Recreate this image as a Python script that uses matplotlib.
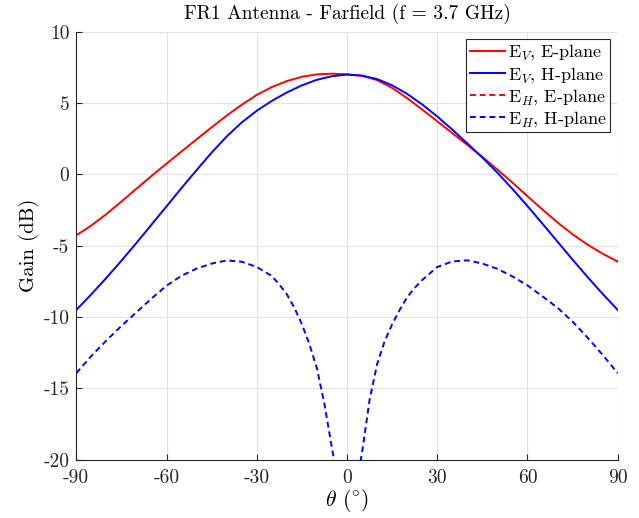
import matplotlib
matplotlib.use("Agg")
import matplotlib.pyplot as plt

plt.rcParams['font.family'] = 'serif'
plt.rcParams['font.serif'] = ['cmr10']
plt.rcParams['mathtext.fontset'] = 'cm'
plt.rcParams['axes.formatter.use_mathtext'] = True

# angles (deg), 5 degree steps
theta = [-90, -85, -80, -75, -70, -65, -60, -55, -50, -45, -40, -35, -30,
         -25, -20, -15, -10, -5, 0, 5, 10, 15, 20, 25, 30, 35, 40, 45, 50,
         55, 60, 65, 70, 75, 80, 85, 90]

# E_V, E-plane (dB)
ev_e = [-4.27, -3.58, -2.78, -1.90, -1.00, -0.11, 0.76, 1.61, 2.46, 3.30,
        4.12, 4.88, 5.57, 6.12, 6.54, 6.84, 7.01, 7.06, 7.01, 6.91, 6.61,
        6.06, 5.34, 4.54, 3.72, 2.89, 2.06, 1.22, 0.34, -0.58, -1.53, -2.47,
        -3.37, -4.20, -4.93, -5.56, -6.11]

# E_V, H-plane (dB)
ev_h = [-9.50, -8.40, -7.25, -6.05, -4.80, -3.52, -2.24, -0.95, 0.30, 1.53,
        2.66, 3.64, 4.46, 5.15, 5.74, 6.24, 6.63, 6.88, 7.00, 6.92, 6.68,
        6.24, 5.64, 4.90, 4.06, 3.14, 2.17, 1.18, 0.12, -1.02, -2.22, -3.46,
        -4.72, -5.98, -7.20, -8.38, -9.50]

# E_H, E-plane (dB) - below the visible range
eh_e = [-41.2, -40.8, -40.5, -40.9, -41.6, -42.3, -42.8, -43.5, -44.1, -44.8,
        -45.3, -46.0, -46.8, -47.5, -48.2, -49.0, -49.6, -50.1, -50.4, -50.0,
        -49.5, -48.9, -48.1, -47.4, -46.6, -45.9, -45.2, -44.6, -44.0, -43.3,
        -42.7, -42.1, -41.5, -41.0, -40.6, -40.9, -41.3]

# E_H, H-plane: extra samples around the null
theta_hh = [-90, -85, -80, -75, -70, -65, -60, -55, -50, -45, -40, -35, -30,
            -25, -22.5, -20, -17.5, -15, -12.5, -10, -7.5, -5, -2.5, 0, 2.5,
            5, 7.5, 10, 12.5, 15, 17.5, 20, 22.5, 25, 30, 35, 40, 45, 50, 55,
            60, 65, 70, 75, 80, 85, 90]
eh_h = [-13.93, -12.72, -11.64, -10.62, -9.66, -8.70, -7.80, -7.10, -6.60,
        -6.25, -6.03, -6.12, -6.49, -7.12, -7.72, -8.40, -9.35, -10.50,
        -11.90, -13.60, -16.10, -19.20, -22.0, -25.0, -22.5, -19.50, -15.80,
        -13.30, -11.70, -10.50, -9.50, -8.60, -7.95, -7.40, -6.49, -6.10,
        -6.02, -6.25, -6.62, -7.15, -7.78, -8.55, -9.35, -10.32, -11.45,
        -12.65, -13.93]

xticks = [-90, -60, -30, 0, 30, 60, 90]
yticks = [-20, -15, -10, -5, 0, 5, 10]

fig = plt.figure(figsize=(6.39, 5.18), dpi=100)
ax = fig.add_axes([0.1194, 0.1124, 0.8473, 0.8264])

lw = 1.4
ax.plot(theta, ev_e, color='#ff0000', lw=lw, label=r'E$_V$, E-plane')
ax.plot(theta, ev_h, color='#0000ff', lw=lw, label=r'E$_V$, H-plane')
ax.plot(theta, eh_e, color='#ff0000', lw=lw, dashes=(3, 2), label=r'E$_H$, E-plane')
ax.plot(theta_hh, eh_h, color='#0000ff', lw=lw, dashes=(3, 2), label=r'E$_H$, H-plane')

ax.set_xlim(-90, 90)
ax.set_ylim(-20, 10)
ax.set_xticks(xticks)
ax.set_xticklabels([str(v) for v in xticks])
ax.set_yticks(yticks)
ax.set_yticklabels([str(v) for v in yticks])

ax.grid(True, color='#e3e3e3', lw=0.8)
ax.set_axisbelow(True)
for s in ['top', 'right']:
    ax.spines[s].set_visible(False)
for s in ['left', 'bottom']:
    ax.spines[s].set_color('#262626')
    ax.spines[s].set_linewidth(0.8)
ax.tick_params(direction='in', length=4, width=0.8, color='#262626',
               labelsize=14, labelcolor='#262626', pad=5)
ax.tick_params(axis='x', pad=7)

ax.set_title('FR1 Antenna - Farfield (f = 3.7 GHz)', fontsize=14, pad=9)
ax.set_xlabel(r'$\theta$ $(^{\circ})$', fontsize=15.5, labelpad=0)
ax.set_ylabel('Gain (dB)', fontsize=15, labelpad=3)

leg = ax.legend(loc='upper right', fontsize=13, fancybox=False, framealpha=1,
                edgecolor='#262626', borderaxespad=0.4, handlelength=1.95,
                handletextpad=0.15, labelspacing=0.12, borderpad=0.2)
leg.get_frame().set_linewidth(0.8)

fig.savefig('out.png', dpi=100)
